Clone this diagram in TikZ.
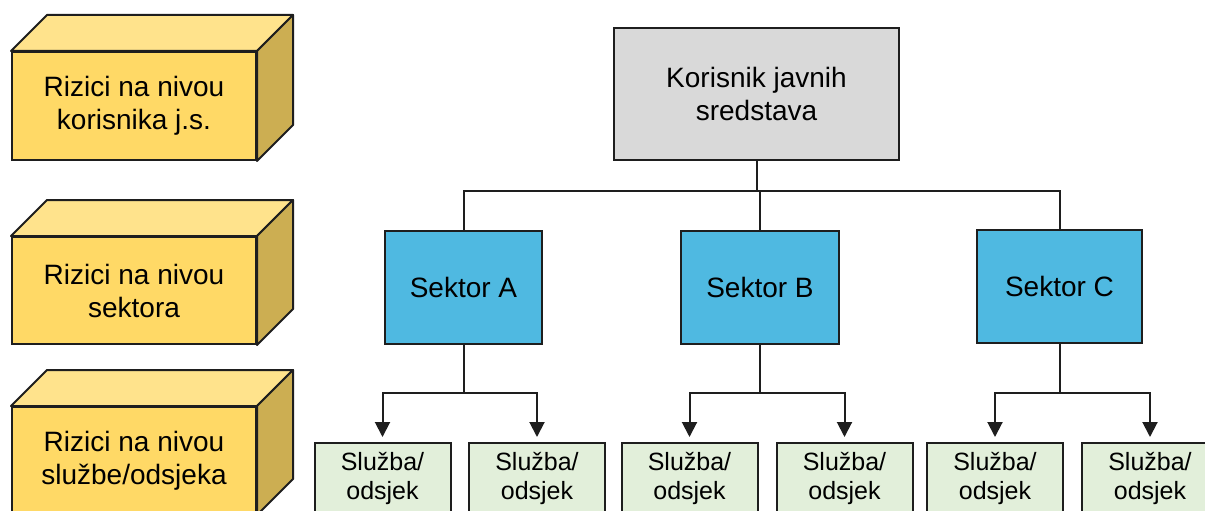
\documentclass[tikz,border=0pt]{standalone}
\usepackage{fontspec}
\setmainfont{Liberation Sans}
\usetikzlibrary{calc,arrows.meta}

\definecolor{cubefrontc}{HTML}{FFD966}
\definecolor{cubetopc}{HTML}{FFE38C}
\definecolor{cubesidec}{HTML}{CCAE52}
\definecolor{rootc}{HTML}{D9D9D9}
\definecolor{sectorc}{HTML}{4FB9E1}
\definecolor{unitc}{HTML}{E2EFDA}
\definecolor{edgec}{HTML}{1E1E1E}

\tikzset{
  box/.style={draw=edgec, line width=2pt, rectangle, inner sep=0pt,
    align=center, text=black},
  bigtext/.style={font=\fontsize{28}{33}\selectfont},
  cubefront/.style={box, bigtext, fill=cubefrontc, minimum width=244pt},
  rootbox/.style={box, bigtext, fill=rootc, minimum width=285pt, minimum height=132pt},
  sectorbox/.style={box, bigtext, fill=sectorc, minimum height=113pt},
  unitbox/.style={box, fill=unitc, minimum width=136pt, minimum height=70pt,
    font=\fontsize{25}{29}\selectfont},
  link/.style={draw=edgec, line width=2pt},
  arrowlink/.style={link, -{Triangle[length=15pt,width=15pt]}, shorten >=5pt},
  cubeface/.style={draw=edgec, line width=2pt, line join=round},
}

% front face plus the top and right faces of a box drawn in perspective
\newcommand{\cubefaces}[1]{%
  \filldraw[cubeface, fill=cubetopc] (#1.north west) -- ++(36,-36)
    -- ($(#1.north east)+(36,-36)$) -- (#1.north east) -- cycle;
  \filldraw[cubeface, fill=cubesidec] (#1.north east) -- ++(36,-36)
    -- ($(#1.south east)+(36,-36)$) -- (#1.south east) -- cycle;
}

\begin{document}
\begin{tikzpicture}[x=1pt, y=-1pt]
  \useasboundingbox (0,0) rectangle (1205,511);
  \fill[white] (0,0) rectangle (1205,511);
  \clip (0,0) rectangle (1205,511);

  % level boxes on the left
  \node[cubefront, minimum height=108pt] (lvlA) at (134,106) {Rizici na nivou\\korisnika j.s.};
  \cubefaces{lvlA}
  \node[cubefront, minimum height=107pt] (lvlB) at (134,290.5) {Rizici na nivou\\sektora};
  \cubefaces{lvlB}
  \node[cubefront, minimum height=107pt] (lvlC) at (134,460.5) {Rizici na nivou\\službe/odsjeka};
  \cubefaces{lvlC}

  % organisation chart
  \node[rootbox] (root) at (756.5,94) {Korisnik javnih\\sredstava};

  \node[sectorbox, minimum width=157pt] (secA) at (463.5,287.5) {Sektor A};
  \node[sectorbox, minimum width=158pt] (secB) at (760,287.5) {Sektor B};
  \node[sectorbox, minimum width=165pt] (secC) at (1059.5,286.5) {Sektor C};

  \node[unitbox] (u1) at (382.5,478) {Služba/\\odsjek};
  \node[unitbox] (u2) at (537,478) {Služba/\\odsjek};
  \node[unitbox] (u3) at (689.5,478) {Služba/\\odsjek};
  \node[unitbox] (u4) at (844.5,478) {Služba/\\odsjek};
  \node[unitbox] (u5) at (995,478) {Služba/\\odsjek};
  \node[unitbox] (u6) at (1150,478) {Služba/\\odsjek};

  % root to sectors
  \coordinate (busTop) at (root.south |- 0,191);
  \draw[link] (root.south) -- (busTop);
  \draw[link] (secA.north) |- (busTop) -| (secC.north);
  \draw[link] (busTop) -- (busTop -| secB.north) -- (secB.north);

  % sectors to units
  \coordinate (busA) at (secA.south |- 0,393);
  \coordinate (busB) at (secB.south |- 0,393);
  \coordinate (busC) at (secC.south |- 0,393);
  \draw[link] (secA.south) -- (busA);
  \draw[link] (secB.south) -- (busB);
  \draw[link] (secC.south) -- (busC);
  \draw[arrowlink] (busA) -| (u1.north);
  \draw[arrowlink] (busA) -| (u2.north);
  \draw[arrowlink] (busB) -| (u3.north);
  \draw[arrowlink] (busB) -| (u4.north);
  \draw[arrowlink] (busC) -| (u5.north);
  \draw[arrowlink] (busC) -| (u6.north);
\end{tikzpicture}
\end{document}
